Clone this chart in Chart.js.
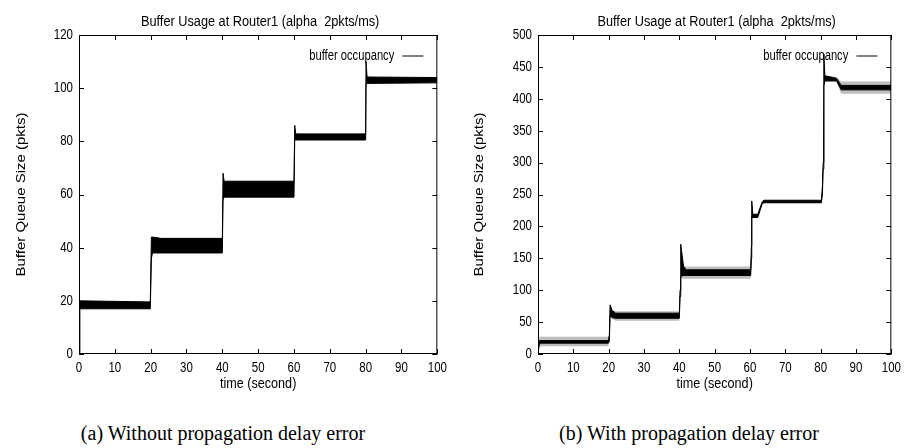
<!DOCTYPE html>
<html>
<head>
<meta charset="utf-8">
<script src="https://cdn.jsdelivr.net/npm/chart.js@4.4.1/dist/chart.umd.min.js"></script>
<style>
  body { margin: 0; background: #fff; width: 909px; height: 448px; overflow: hidden; position: relative; }
  .panel { position: absolute; top: 0; height: 400px; }
  .caption { position: absolute; top: 422px; font-family: "Liberation Serif", "Times New Roman", serif; font-size: 20px; color: #000; white-space: nowrap; transform: translateX(-50%); }
</style>
</head>
<body>
<div class="panel" style="left:0;width:455px"><canvas id="chartA"></canvas></div>
<div class="panel" style="left:455px;width:454px"><canvas id="chartB"></canvas></div>
<div class="caption" style="left:223px">(a) Without propagation delay error</div>
<div class="caption" style="left:689px">(b) With propagation delay error</div>
<script>
// ----- data: envelope of the oscillating queue (edges of the dense band) -----
const titleText = "Buffer Usage at Router1 (alpha  2pkts/ms)";
const seriesLabel = "buffer occupancy";
const xLabel = "time (second)";
const yLabel = "Buffer Queue Size (pkts)";

// (a) without propagation delay error
const timeA  = [0, 0.2, 19.9, 20.2, 20.5, 23, 40.0, 40.2, 40.5, 60.0, 60.2, 60.5, 80.0, 80.1, 80.4, 100];
const upperA = [0, 20,  19.6, 44,   44,   43.5, 43.5, 68, 65,   65,   86,   82.8, 82.8, 110,  104.2, 104];
const lowerA = [0, 17,  17,   36,   38,   38,   38,   58, 59,   59,   80.5, 80.5, 80.5, 101.8, 101.8, 102];

// (b) with propagation delay error: dense core plus the thin spikes around it
const timeB      = [0, 0.4, 19.9, 20.2, 20.4, 21.0, 22.0, 40.0, 40.2, 40.4, 41.2, 42.0, 60.2, 60.4, 60.5, 60.8, 62.2, 63.5, 64.0, 80.2, 80.5, 80.7, 80.9, 81.2, 84.5, 85.8, 100];
const upperB     = [5, 21,  21,   30,   77,   68,   64,   64,   100,  172,  137,  132,  132,  170,  240,  219,  219,  239,  241,  241,  262,  300,  470,  436,  432,  421,  421];
const lowerB     = [0, 17,  17,   20,   60,   57,   56,   56,   90,   122,  123,  123,  123,  150,  215,  214,  214,  236,  237,  237,  250,  290,  420,  428,  428,  414,  414];
const hairUpperB = [5, 27,  27,   30,   77,   69,   67,   67,   100,  172,  139,  137,  137,  170,  240,  219,  219,  239,  241,  241,  262,  300,  470,  437,  434,  427,  427];
const hairLowerB = [0, 12,  12,   20,   60,   55,   52,   52,   90,   119,  118,  118,  118,  150,  215,  214,  214,  236,  237,  237,  250,  290,  420,  427,  427,  408,  408];

const xTicks = [0, 100, 10];
const yTicksA = [0, 120, 20];
const yTicksB = [0, 500, 50];

const FONT = "'Liberation Sans', Arial, Helvetica, sans-serif";

// the figure's lettering is narrow: squeeze each text horizontally on screen
function squeezeOf(text) {
  if (text === titleText) return 0.91;
  if (text === seriesLabel) return 0.8;
  if (text === xLabel) return 0.9;
  if (text === yLabel) return 0.85;
  return 0.82; // tick numbers
}
function squeezeText(ctx) {
  const orig = ctx.fillText.bind(ctx);
  ctx.fillText = function (text, x, y, maxWidth) {
    const k = squeezeOf(text);
    const m = this.getTransform();
    this.save();
    this.translate(x, y);
    if (Math.abs(m.b) > 0.5) this.scale(1, k); else this.scale(k, 1);
    if (maxWidth === undefined) orig(text, 0, 0); else orig(text, 0, 0, maxWidth / k);
    this.restore();
  };
}

// gnuplot style frame with inward ticks on all four sides, title and key
const framePlugin = {
  id: "frame",
  afterDatasetsDraw(chart) {
    const { ctx, chartArea: a, scales } = chart;
    ctx.save();
    ctx.strokeStyle = "#000";
    ctx.lineWidth = 1;
    ctx.strokeRect(a.left + 0.5, a.top + 0.5, a.right - a.left - 1, a.bottom - a.top - 1);
    ctx.beginPath();
    scales.x.ticks.forEach(t => {
      const px = Math.round(scales.x.getPixelForValue(t.value)) + 0.5;
      ctx.moveTo(px, a.bottom); ctx.lineTo(px, a.bottom - 5);
      ctx.moveTo(px, a.top); ctx.lineTo(px, a.top + 5);
    });
    scales.y.ticks.forEach(t => {
      const py = Math.round(scales.y.getPixelForValue(t.value)) + 0.5;
      ctx.moveTo(a.left, py); ctx.lineTo(a.left + 5, py);
      ctx.moveTo(a.right, py); ctx.lineTo(a.right - 5, py);
    });
    ctx.stroke();
    ctx.fillStyle = "#000";
    ctx.textBaseline = "middle";
    // title
    ctx.font = "14px " + FONT;
    ctx.textAlign = "center";
    ctx.fillText(titleText, (a.left + a.right) / 2 + 2, a.top - 13);
    // key
    ctx.textAlign = "right";
    ctx.fillText(seriesLabel, a.right - 43, a.top + 21);
    ctx.strokeStyle = "#555";
    ctx.lineWidth = 1.5;
    ctx.beginPath();
    ctx.moveTo(a.right - 35, a.top + 21);
    ctx.lineTo(a.right - 14, a.top + 21);
    ctx.stroke();
    ctx.restore();
  }
};

// lower edge + upper edge filled down to it
function band(label, time, upper, lower, color, width) {
  return [{
    label: label + " (low)",
    data: time.map((t, i) => ({ x: t, y: lower[i] })),
    borderColor: color,
    borderWidth: width,
    pointRadius: 0,
    fill: false
  }, {
    label: label,
    data: time.map((t, i) => ({ x: t, y: upper[i] })),
    borderColor: color,
    borderWidth: width,
    pointRadius: 0,
    backgroundColor: color,
    fill: "-1"
  }];
}

function makeChart(id, datasets, yTicks, yWidth, rightPad, yTitlePad) {
  const ctx = document.getElementById(id).getContext("2d");
  squeezeText(ctx);
  return new Chart(ctx, {
    type: "line",
    data: { datasets },
    options: {
      responsive: true,
      maintainAspectRatio: false,
      animation: false,
      layout: { padding: { left: 0, right: rightPad, top: 35, bottom: 0 } },
      plugins: {
        legend: { display: false },
        tooltip: { enabled: false },
        title: { display: false }
      },
      scales: {
        x: {
          type: "linear",
          min: xTicks[0], max: xTicks[1],
          ticks: { stepSize: xTicks[2], color: "#000", padding: 6, font: { family: FONT, size: 14 } },
          grid: { display: false, drawTicks: false },
          border: { display: false },
          title: { display: true, text: xLabel, color: "#000", font: { family: FONT, size: 14 }, padding: { top: 0, bottom: 7 } },
          afterFit: s => { s.height = 46; }
        },
        y: {
          min: yTicks[0], max: yTicks[1],
          ticks: { stepSize: yTicks[2], color: "#000", padding: 6, font: { family: FONT, size: 14 } },
          grid: { display: false, drawTicks: false },
          border: { display: false },
          title: { display: true, text: yLabel, color: "#000", font: { family: FONT, size: 15 }, padding: { top: yTitlePad, bottom: 0 } },
          afterFit: s => { s.width = yWidth; }
        }
      }
    },
    plugins: [framePlugin]
  });
}

makeChart("chartA", band(seriesLabel, timeA, upperA, lowerA, "#000", 1), yTicksA, 79, 17, 12);
// lower dataset index is drawn on top: core first, spikes behind it
makeChart("chartB", [
  ...band(seriesLabel, timeB, upperB, lowerB, "#000", 1),
  ...band(seriesLabel + " spikes", timeB, hairUpperB, hairLowerB, "#bdbdbd", 0)
], yTicksB, 83, 12, 15);
</script>
</body>
</html>
